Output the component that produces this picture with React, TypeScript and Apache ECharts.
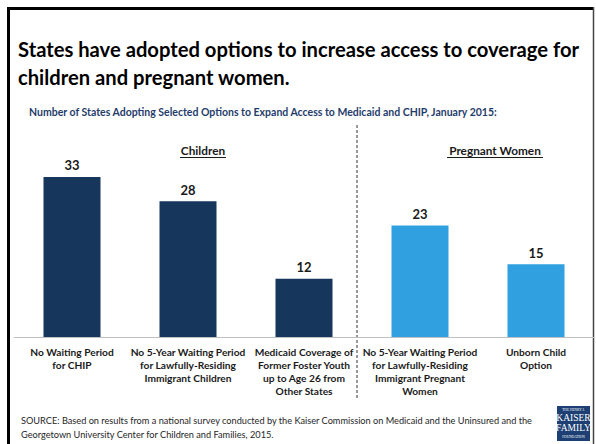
import React, { useEffect, useRef } from "react";
import * as echarts from "echarts";

const categories = [
  "No Waiting Period\nfor CHIP",
  "No 5-Year Waiting Period\nfor Lawfully-Residing\nImmigrant Children",
  "Medicaid Coverage of\nFormer Foster Youth\nup to Age 26 from\nOther States",
  "No 5-Year Waiting Period\nfor Lawfully-Residing\nImmigrant Pregnant\nWomen",
  "Unborn Child\nOption",
];
const values = [33, 28, 12, 23, 15];
const groups = ["Children", "Children", "Children", "Pregnant Women", "Pregnant Women"];
const groupNames = ["Children", "Pregnant Women"];
const groupColors: Record<string, string> = { Children: "#16365b", "Pregnant Women": "#30a0e0" };

const titleLines = [
  "States have adopted options to increase access to coverage for",
  "children and pregnant women.",
];
const subtitle =
  "Number of States Adopting Selected Options to Expand Access to Medicaid and CHIP, January 2015:";
const sourceLines = [
  "SOURCE: Based on results from a national survey conducted by the Kaiser Commission on Medicaid and the Uninsured and the",
  "Georgetown University Center for Children and Families, 2015.",
];

const FONT = "Lato, 'Noto Sans', sans-serif";

export default function App() {
  const ref = useRef<HTMLDivElement>(null);
  useEffect(() => {
    if (!ref.current) return;
    const chart = echarts.init(ref.current, undefined, { renderer: "svg" });
    const option: any = {
      animation: false,
      backgroundColor: "#ffffff",
      grid: { left: 14, right: 2, top: 143, bottom: 107 },
      xAxis: {
        type: "category",
        data: categories,
        axisLine: { lineStyle: { color: "#c0c0c0", width: 1 } },
        axisTick: { show: false },
        axisLabel: {
          interval: 0,
          margin: 8,
          fontFamily: FONT,
          fontSize: 10.2,
          fontWeight: "bold",
          lineHeight: 13,
          color: "#1a1a1a",
        },
      },
      yAxis: { type: "value", min: 0, max: 40, show: false, splitLine: { show: false } },
      series: [
        {
          type: "bar",
          barWidth: 57,
          data: values.map((v, i) => ({ value: v, itemStyle: { color: groupColors[groups[i]] } })),
          label: {
            show: true,
            position: "top",
            distance: 5,
            fontFamily: FONT,
            fontSize: 13,
            fontWeight: "bold",
            color: "#1a1a1a",
          },
        },
      ],
      graphic: [
        // frame
        { type: "line", shape: { x1: 8.5, y1: 7, x2: 8.5, y2: 444 }, style: { stroke: "#000", lineWidth: 3 } },
        { type: "line", shape: { x1: 7, y1: 8.5, x2: 594, y2: 8.5 }, style: { stroke: "#000", lineWidth: 3 } },
        { type: "line", shape: { x1: 593.5, y1: 7, x2: 593.5, y2: 444 }, style: { stroke: "#444", lineWidth: 1.5 } },
        // title
        ...titleLines.map((t, i) => ({
          type: "text",
          style: {
            text: t,
            x: 18,
            y: 49 + i * 28,
            textVerticalAlign: "middle",
            fontFamily: FONT,
            fontSize: 20.2,
            fontWeight: "bold",
            fill: "#000",
          },
        })),
        {
          type: "text",
          style: {
            text: subtitle,
            x: 29,
            y: 112,
            textVerticalAlign: "middle",
            fontFamily: FONT,
            fontSize: 10.5,
            fontWeight: "bold",
            fill: "#1f3d6b",
          },
        },
        // group headers
        {
          type: "text",
          style: {
            text: groupNames[0],
            x: 203,
            y: 150,
            textAlign: "center",
            textVerticalAlign: "middle",
            fontFamily: FONT,
            fontSize: 11.8,
            fontWeight: "bold",
            fill: "#1a1a1a",
          },
        },
        { type: "line", shape: { x1: 180, y1: 157.5, x2: 226, y2: 157.5 }, style: { stroke: "#1a1a1a", lineWidth: 1 } },
        {
          type: "text",
          style: {
            text: groupNames[1],
            x: 495,
            y: 150,
            textAlign: "center",
            textVerticalAlign: "middle",
            fontFamily: FONT,
            fontSize: 11.8,
            fontWeight: "bold",
            fill: "#1a1a1a",
          },
        },
        { type: "line", shape: { x1: 447, y1: 157.5, x2: 543, y2: 157.5 }, style: { stroke: "#1a1a1a", lineWidth: 1 } },
        // dashed divider
        {
          type: "line",
          shape: { x1: 357, y1: 125, x2: 357, y2: 399 },
          style: { stroke: "#333", lineWidth: 1, lineDash: [3, 2] },
        },
        // source
        ...sourceLines.map((t, i) => ({
          type: "text",
          style: {
            text: t,
            x: 21,
            y: 420 + i * 14,
            textVerticalAlign: "middle",
            fontFamily: FONT,
            fontSize: 9.2,
            fill: "#262626",
          },
        })),
        // logo
        { type: "rect", shape: { x: 557, y: 406, width: 33, height: 35 }, style: { fill: "#1d3f73" } },
        {
          type: "text",
          style: { text: "THE HENRY J.", x: 573.5, y: 410, textAlign: "center", textVerticalAlign: "middle", fontFamily: "'Liberation Serif', serif", fontSize: 3.5, fill: "#fff" },
        },
        {
          type: "text",
          style: { text: "KAISER", x: 573.5, y: 418, textAlign: "center", textVerticalAlign: "middle", fontFamily: "'Liberation Serif', serif", fontSize: 9.5, fill: "#fff" },
        },
        {
          type: "text",
          style: { text: "FAMILY", x: 573.5, y: 428, textAlign: "center", textVerticalAlign: "middle", fontFamily: "'Liberation Serif', serif", fontSize: 9.5, fill: "#fff" },
        },
        {
          type: "text",
          style: { text: "FOUNDATION", x: 573.5, y: 437, textAlign: "center", textVerticalAlign: "middle", fontFamily: "'Liberation Serif', serif", fontSize: 3.5, fill: "#fff" },
        },
      ],
    };
    chart.setOption(option);
    return () => chart.dispose();
  }, []);
  return (
    <div
      ref={ref}
      style={{ position: "absolute", left: 0, top: 0, width: 596, height: 444 }}
    />
  );
}
